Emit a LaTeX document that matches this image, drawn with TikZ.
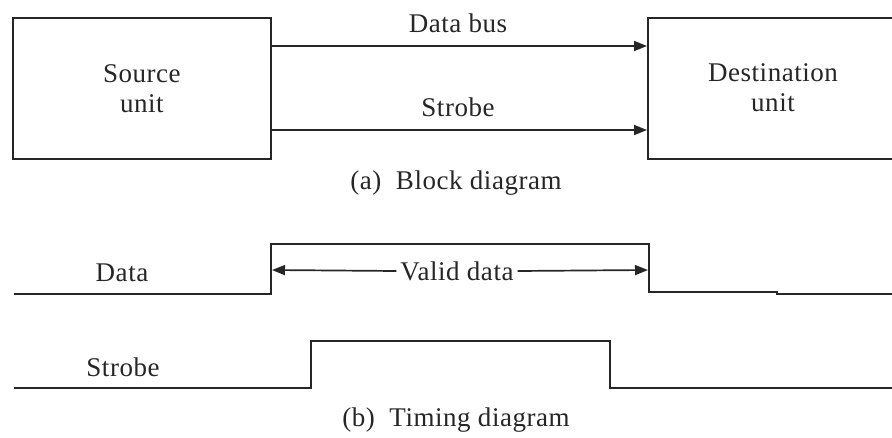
\documentclass[tikz,border=0pt]{standalone}
\usepackage{fontspec}
\setmainfont[LetterSpace=2]{Liberation Serif}
\usetikzlibrary{arrows.meta}
\begin{document}
\begin{tikzpicture}[x=1pt,y=-1pt,
  wire/.style={line width=1.7pt, draw=black!85},
  arr/.style={wire, -{Triangle[length=13pt,width=10pt]}},
  box/.style={wire, rectangle, inner sep=0pt},
  lbl/.style={font=\fontsize{27}{30}\selectfont, inner sep=0pt, align=center, text=black!85}]
\useasboundingbox (0,0) rectangle (892,437);
% block diagram
\node[box, minimum width=258pt, minimum height=141pt, anchor=north west] (src) at (12,17) {};
\node[lbl] (srctext) at (src.center) {Source\\unit};
\node[box, minimum width=320pt, minimum height=141pt, anchor=north west] (dst) at (647,17) {};
\node[lbl] (dsttext) at (773,88) {Destination\\unit};
\coordinate (bus1) at (0,46);
\coordinate (bus2) at (0,130);
\draw[arr] (src.east |- bus1) -- (dst.west |- bus1);
\draw[arr] (src.east |- bus2) -- (dst.west |- bus2);
\node[lbl] (busl) at (458,23) {Data bus};
\node[lbl] (strl) at (458,107) {Strobe};
\node[lbl] (capa) at (456,183) {(a)\ \ Block diagram};
% timing diagram
\draw[wire] (14,294) -- (271,294) -- (271,244) -- (649,244) -- (649,292) -- (777,292) -- (777,294) -- (892,294);
\draw[wire] (14,388) -- (311,388) -- (311,341) -- (610,341) -- (610,388) -- (892,388);
\node[lbl] (datal) at (122,273) {Data};
\node[lbl] (strobel) at (123,367) {Strobe};
\node[lbl, fill=white, inner xsep=4pt] (vd) at (457,271) {Valid data};
\coordinate (vdl) at (272,270);
\coordinate (vdr) at (648,270);
\draw[arr] (vd.west) -- (vdl);
\draw[arr] (vd.east) -- (vdr);
\node[lbl] (capb) at (456,420) {(b)\ \ Timing diagram};
\end{tikzpicture}
\end{document}
